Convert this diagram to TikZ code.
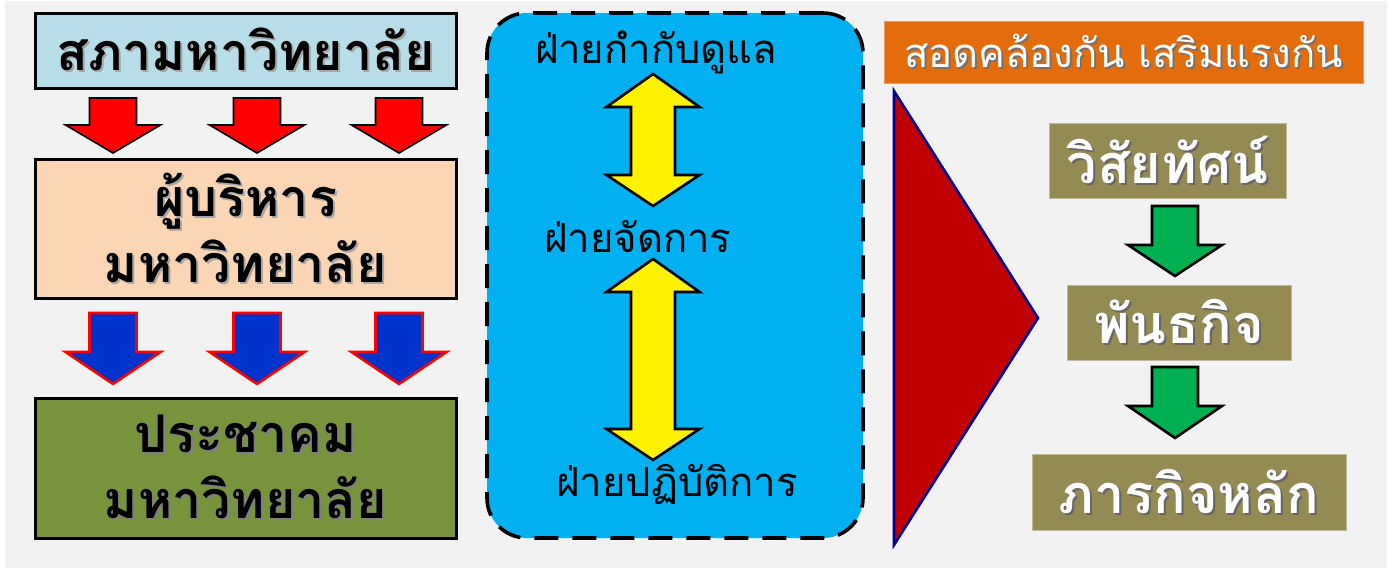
\documentclass[tikz,border=0pt]{standalone}
\usepackage{fontspec}
\newfontfamily\thai[Script=Thai]{Loma}
\usetikzlibrary{positioning}
\definecolor{bgray}{HTML}{F2F2F2}
\definecolor{councilblue}{HTML}{B7DEE8}
\definecolor{execpeach}{HTML}{FCD5B5}
\definecolor{commgreen}{HTML}{77933C}
\definecolor{panelblue}{HTML}{00B0F0}
\definecolor{tagorange}{HTML}{E46C0A}
\definecolor{wedgered}{HTML}{C00000}
\definecolor{wedgeblue}{HTML}{000099}
\definecolor{goalolive}{HTML}{948A54}
\definecolor{stepgreen}{HTML}{00B050}
\definecolor{flowblue}{HTML}{0033CC}
\newcommand\shad[2]{\makebox[0pt][l]{\hspace{1pt}\raisebox{-1pt}{\textcolor{#1}{#2}}}#2}
\tikzset{
  levelbox/.style={draw=black, line width=1.5pt, minimum width=210.5pt, align=center,
    font=\thai\bfseries\fontsize{26}{33}\selectfont, inner sep=0pt},
  goalbox/.style={fill=goalolive, draw=goalolive!60!white, line width=.5pt, minimum height=37.5pt,
    font=\thai\bfseries\fontsize{27}{30}\selectfont, text=white, inner sep=0pt},
  unitlbl/.style={font=\thai\fontsize{20}{22}\selectfont, inner sep=0pt},
  redarrow/.style={fill=red, draw=black, line width=.8pt},
  bluearrow/.style={fill=flowblue, draw=red, line width=1.3pt},
  greenarrow/.style={fill=stepgreen, draw=black, line width=1.3pt},
  yelarrow/.style={fill=yellow, draw=black, line width=1.3pt}
}
\begin{document}
\begin{tikzpicture}[x=0.5pt,y=-0.5pt]
\useasboundingbox (0,0) rectangle (1394,568);
\fill[bgray] (5,1) rectangle (1387,568);
% left column
\node[levelbox, fill=councilblue, minimum height=37.5pt] (council) at (245.5,50.5)
  {\shad{black!35}{สภามหาวิทยาลัย}};
\node[levelbox, fill=execpeach, minimum height=69.5pt] (exec) at (245.5,228.5)
  {\shad{black!35}{ผู้บริหาร}\\ \shad{black!35}{มหาวิทยาลัย}};
\node[levelbox, fill=commgreen, minimum height=70pt] (comm) at (245.5,468)
  {\shad{black!50}{ประชาคม}\\ \shad{black!50}{มหาวิทยาลัย}};
\foreach \cx in {113,257,399}{
  \draw[redarrow] (\cx-23.5,98) -- (\cx+23.5,98) -- (\cx+23.5,125) -- (\cx+47.5,125)
    -- (\cx,153) -- (\cx-47.5,125) -- (\cx-23.5,125) -- cycle;
  \draw[bluearrow] (\cx-23.5,313) -- (\cx+23.5,313) -- (\cx+23.5,352) -- (\cx+47.5,352)
    -- (\cx,384) -- (\cx-47.5,352) -- (\cx-23.5,352) -- cycle;
}
% middle panel
\node[draw=black, fill=panelblue, line width=1.8pt, dash pattern=on 12pt off 7pt,
  rounded corners=20pt, minimum width=188pt, minimum height=262.5pt] (panel) at (675,275.5) {};
\node[unitlbl] (oversee) at (656,52) {ฝ่ายกำกับดูแล};
\node[unitlbl] (manage) at (638,237) {ฝ่ายจัดการ};
\node[unitlbl] (operate) at (677,484) {ฝ่ายปฏิบัติการ};
\draw[yelarrow] (653,74) -- (699.5,107) -- (675,107) -- (675,175) -- (699.5,175) -- (653,206)
  -- (606.5,175) -- (631,175) -- (631,107) -- (606.5,107) -- cycle;
\draw[yelarrow] (653,259) -- (699.5,292) -- (675,292) -- (675,429) -- (699.5,429) -- (653,460)
  -- (606.5,429) -- (631,429) -- (631,292) -- (606.5,292) -- cycle;
% right column
\node[fill=tagorange, draw=tagorange!70!white, line width=.5pt, minimum width=239.5pt,
  minimum height=31pt, text=white, font=\thai\fontsize{20}{22}\selectfont, inner sep=0pt]
  (tag) at (1123.5,52) {\shad{black!55}{สอดคล้องกัน เสริมแรงกัน}\hspace{3.5pt}};
\draw[draw=wedgeblue, fill=wedgered, line width=1.3pt] (894,91) -- (1038,318) -- (894,545) -- cycle;
\node[goalbox, minimum width=118.5pt] (vision) at (1167.5,160.5) {\shad{black!60}{วิสัยทัศน์}};
\node[goalbox, minimum width=112pt] (mission) at (1179,322.5) {\shad{black!60}{พันธกิจ}\hspace{9pt}};
\node[goalbox, minimum width=157pt, minimum height=38pt] (duty) at (1189,492) {\shad{black!60}{ภารกิจหลัก}\hspace{9pt}};
\foreach \ty/\hy/\py in {206/245/276, 367/406/438}{
  \draw[greenarrow] (1152,\ty) -- (1198,\ty) -- (1198,\hy) -- (1222,\hy) -- (1175,\py)
    -- (1128,\hy) -- (1152,\hy) -- cycle;
}
\end{tikzpicture}
\end{document}
